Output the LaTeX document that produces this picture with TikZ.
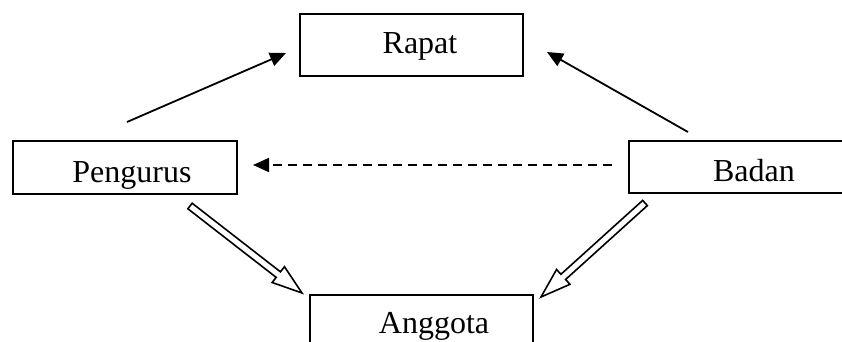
\documentclass[tikz,border=0pt]{standalone}
\usepackage{fontspec}
\setmainfont{Liberation Serif}
\usetikzlibrary{arrows.meta,calc}

\tikzset{
  box/.style={draw, line width=1.8pt, rectangle, inner sep=0pt},
  label/.style={anchor=base, inner sep=0pt, font=\fontsize{32}{38}\selectfont},
  flow/.style={line width=1.8pt, -{Triangle[length=16pt,width=14pt]}},
  hint/.style={flow, dash pattern=on 9pt off 6pt},
  hollow/.style={draw, line width=1.6pt, fill=white, line join=miter}
}

% hollow block arrow from #1 to #2
\newcommand{\blockarrow}[2]{%
  \draw[hollow]
    ($(#1)!3.5pt!90:(#2)$) --
    ($(#2)!30pt!(#1)!3.5pt!90:(#2)$) --
    ($(#2)!30pt!(#1)!10pt!90:(#2)$) --
    (#2) --
    ($(#2)!30pt!(#1)!10pt!-90:(#2)$) --
    ($(#2)!30pt!(#1)!3.5pt!-90:(#2)$) --
    ($(#1)!3.5pt!-90:(#2)$) -- cycle;}

\begin{document}
\begin{tikzpicture}[x=1pt,y=-1pt]
  \useasboundingbox (0,0) rectangle (842,342);
  \clip (0,0) rectangle (842,342);

  % boxes
  \node[box, minimum width=223pt, minimum height=62pt] (rapat)    at (411.5,45)  {};
  \node[box, minimum width=224pt, minimum height=53pt] (pengurus) at (125,167.5) {};
  \node[box, minimum width=229pt, minimum height=52pt] (badan)    at (743.5,167) {};
  \node[box, minimum width=223pt, minimum height=62pt] (anggota)  at (421.5,326) {};

  % labels
  \node[label] (trapat)    at (420,54)  {Rapat};
  \node[label] (tpengurus) at (132,182) {Pengurus};
  \node[label] (tbadan)    at (754,181) {Badan};
  \node[label] (tanggota)  at (434,333) {Anggota};

  % connector ends
  \coordinate (p-up)    at (127,122);
  \coordinate (r-left)  at (286,53);
  \coordinate (b-up)    at (688,132);
  \coordinate (r-right) at (547,52);
  \coordinate (b-left)  at (612,165);
  \coordinate (p-right) at (253,165);
  \coordinate (p-down)  at (190,206);
  \coordinate (a-left)  at (302,293);
  \coordinate (b-down)  at (645,203);
  \coordinate (a-right) at (541,297);

  % connectors
  \draw[flow] (p-up) -- (r-left);
  \draw[flow] (b-up) -- (r-right);
  \draw[hint] (b-left) -- (p-right);
  \blockarrow{p-down}{a-left}
  \blockarrow{b-down}{a-right}
\end{tikzpicture}
\end{document}
